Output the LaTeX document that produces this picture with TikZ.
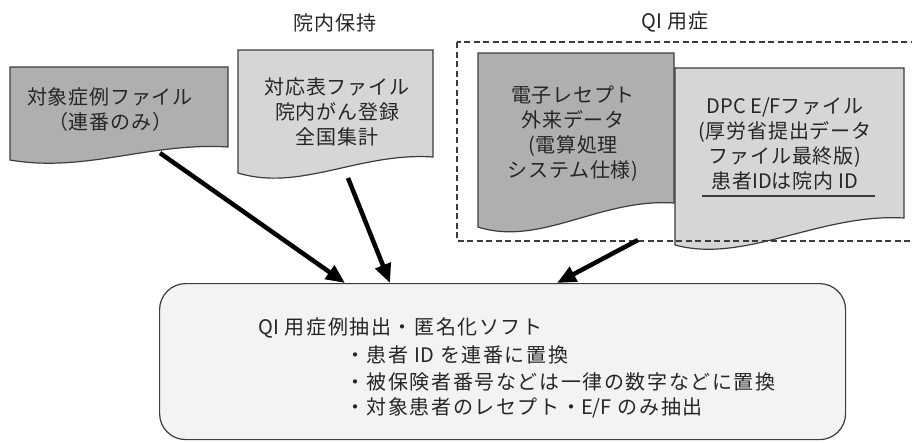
\documentclass[tikz,border=0pt]{standalone}
\usepackage{fontspec}
\setmainfont{Noto Sans CJK JP}
\newfontfamily\jp{Noto Sans CJK JP}
\usetikzlibrary{arrows.meta}
\definecolor{docdark}{HTML}{AFAFAF}
\definecolor{doclight}{HTML}{D6D6D6}
\definecolor{boxfill}{HTML}{F3F3F3}
\definecolor{edge}{HTML}{3C3C3C}
\newcommand\lat[1]{{\addfontfeature{LetterSpace=0}#1}}
\tikzset{
  docshape/.style={draw=edge, line width=1.2pt},
  doctext/.style={align=center, inner sep=0pt, text=black!85,
    font=\jp\addfontfeature{LetterSpace=4}\fontsize{20}{25}\selectfont},
  titletext/.style={inner sep=0pt, text=black!85,
    font=\jp\addfontfeature{LetterSpace=4}\fontsize{20}{25}\selectfont},
  softtext/.style={anchor=west, inner sep=0pt, text=black!85,
    font=\jp\addfontfeature{LetterSpace=8}\fontsize{20}{26}\selectfont},
  arr/.style={line width=4.5pt, -{Triangle[length=19pt,width=16pt]}},
  groupbox/.style={draw=edge, line width=1.5pt, dash pattern=on 6pt off 3.5pt},
}
\begin{document}
\begin{tikzpicture}[x=1pt,y=-1pt]
\useasboundingbox (0,0) rectangle (912,442);
% titles
\node[titletext] (t1) at (335,23) {院内保持};
\node[titletext] (t2) at (675,22) {\lat{QI} 用症};
% doc 1
\draw[docshape, fill=docdark] (10,67) -- (228,67) -- (228,147)
  .. controls (150,142) and (85,173) .. (10,160) -- cycle;
\node[doctext] (d1) at (110,110) {対象症例ファイル\\（連番のみ）};
\coordinate (s1) at (160,153);
% doc 2
\draw[docshape, fill=doclight] (238,50) -- (433,50) -- (433,157)
  .. controls (360,152) and (300,192) .. (238,173) -- cycle;
\node[doctext] (d2) at (337,112) {対応表ファイル\\院内がん登録\\全国集計};
\coordinate (s2) at (348,178);
% doc 3
\draw[docshape, fill=docdark] (478,53) -- (674,53) -- (674,203)
  .. controls (600,198) and (540,247) .. (478,227) -- cycle;
\node[doctext] (d3) at (573,134) {電子レセプト\\外来データ\\(電算処理\\システム仕様)};
% doc 4
\draw[docshape, fill=doclight] (675,68) -- (904,68) -- (904,218)
  .. controls (820,213) and (745,264) .. (675,245) -- cycle;
\node[doctext] (d4) at (785,144) {\lat{DPC E/F}ファイル\\(厚労省提出データ\\ファイル最終版)\\患者\lat{ID}は院内 \lat{ID}};
\draw[edge, line width=1.5pt] (702,196) -- (875,196);
% group box
\begin{scope}
\clip (0,0) rectangle (912,442);
\draw[groupbox] (457,42) rectangle (920,241);
\end{scope}
\coordinate (s3) at (638,240);
% software box
\node[draw=edge, line width=1.2pt, fill=boxfill, rounded corners=26pt,
  minimum width=686pt, minimum height=156pt, anchor=north west, inner sep=0pt]
  (soft) at (159,283) {};
\node[softtext] (l0) at (258,328) {\lat{QI} 用症例抽出・匿名化ソフト};
\node[softtext] (l1) at (345,355) {・患者 \lat{ID} を連番に置換};
\node[softtext] (l2) at (345,382) {・被保険者番号などは一律の数字などに置換};
\node[softtext] (l3) at (345,408) {・対象患者のレセプト・\lat{E/F} のみ抽出};
% arrows
\coordinate (e1) at (345,283);
\coordinate (e2) at (390,283);
\coordinate (e3) at (557,283);
\draw[arr] (s1) -- (e1);
\draw[arr] (s2) -- (e2);
\draw[arr] (s3) -- (e3);
\end{tikzpicture}
\end{document}
